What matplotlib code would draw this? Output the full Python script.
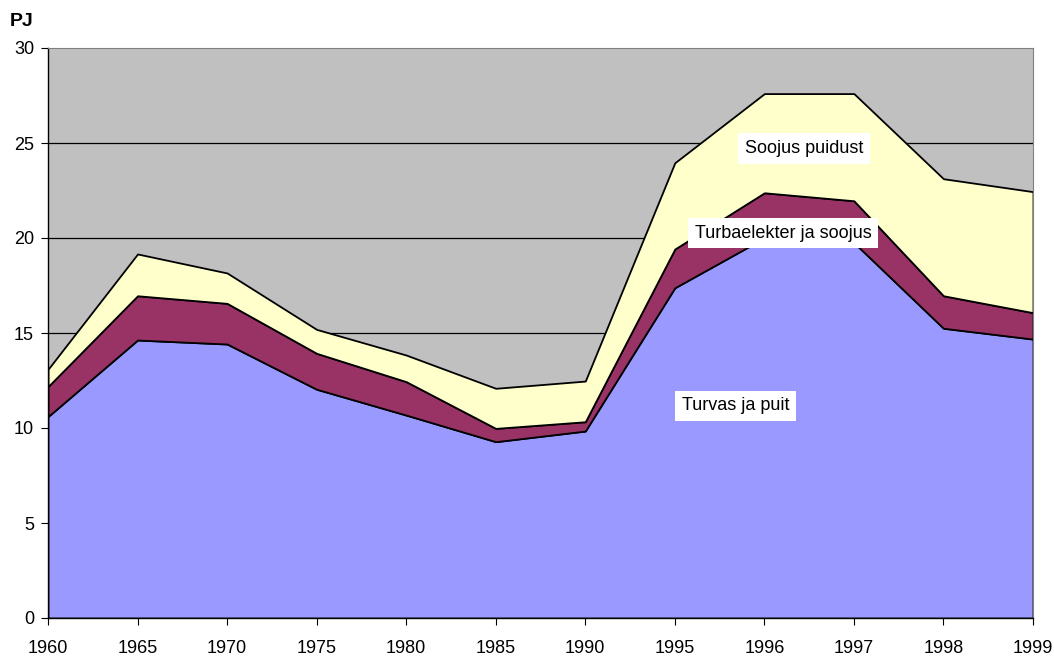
import numpy as np
import matplotlib.pyplot as plt

plt.rcParams['font.family'] = ['Liberation Sans', 'DejaVu Sans']

years = ["1960", "1965", "1970", "1975", "1980", "1985", "1990",
         "1995", "1996", "1997", "1998", "1999"]
turvas_puit = [10.60, 14.63, 14.42, 12.04, 10.68, 9.28, 9.84,
               17.38, 20.00, 19.76, 15.25, 14.68]
turbaelekter = [1.58, 2.33, 2.14, 1.89, 1.76, 0.70, 0.49,
                2.04, 2.38, 2.20, 1.71, 1.39]
soojus_puidust = [0.91, 2.20, 1.60, 1.26, 1.40, 2.11, 2.14,
                  4.54, 5.22, 5.64, 6.16, 6.37]

x = np.arange(len(years))

fig = plt.figure(figsize=(10.54, 6.59), dpi=100)
ax = fig.add_axes([48/1054, 41/659, 985/1054, 570/659])
ax.set_facecolor("#C0C0C0")

for yv in [5, 10, 15, 20, 25]:
    ax.axhline(yv, color="black", lw=0.9, zorder=1)

ax.stackplot(x, turvas_puit, turbaelekter, soojus_puidust,
             colors=["#9999FF", "#993366", "#FFFFCC"],
             edgecolor="black", linewidth=1.3, zorder=2)

ax.set_xlim(0, len(years) - 1)
ax.set_ylim(0, 30)
ax.set_xticks(x)
ax.set_xticklabels(years, fontsize=13)
ax.set_yticks(range(0, 31, 5))
ax.tick_params(axis="y", labelsize=13, length=5, direction="out", pad=5)
ax.tick_params(axis="x", length=5, direction="out", pad=11)

for side in ["top", "right"]:
    ax.spines[side].set_color("#808080")
for side in ["left", "bottom"]:
    ax.spines[side].set_color("black")
    ax.spines[side].set_linewidth(1.0)

box = dict(facecolor="white", edgecolor="none", pad=5)
ax.text(8.44, 24.7, "Soojus puidust", fontsize=13, ha="center", va="center", bbox=box, zorder=5)
ax.text(8.21, 20.26, "Turbaelekter ja soojus", fontsize=13, ha="center", va="center", bbox=box, zorder=5)
ax.text(7.68, 11.16, "Turvas ja puit", fontsize=13, ha="center", va="center", bbox=box, zorder=5)

fig.text(10/1054, 1 - 21/659, "PJ", fontsize=14, fontweight="bold", ha="left", va="center")

fig.savefig("out.png", dpi=100)
